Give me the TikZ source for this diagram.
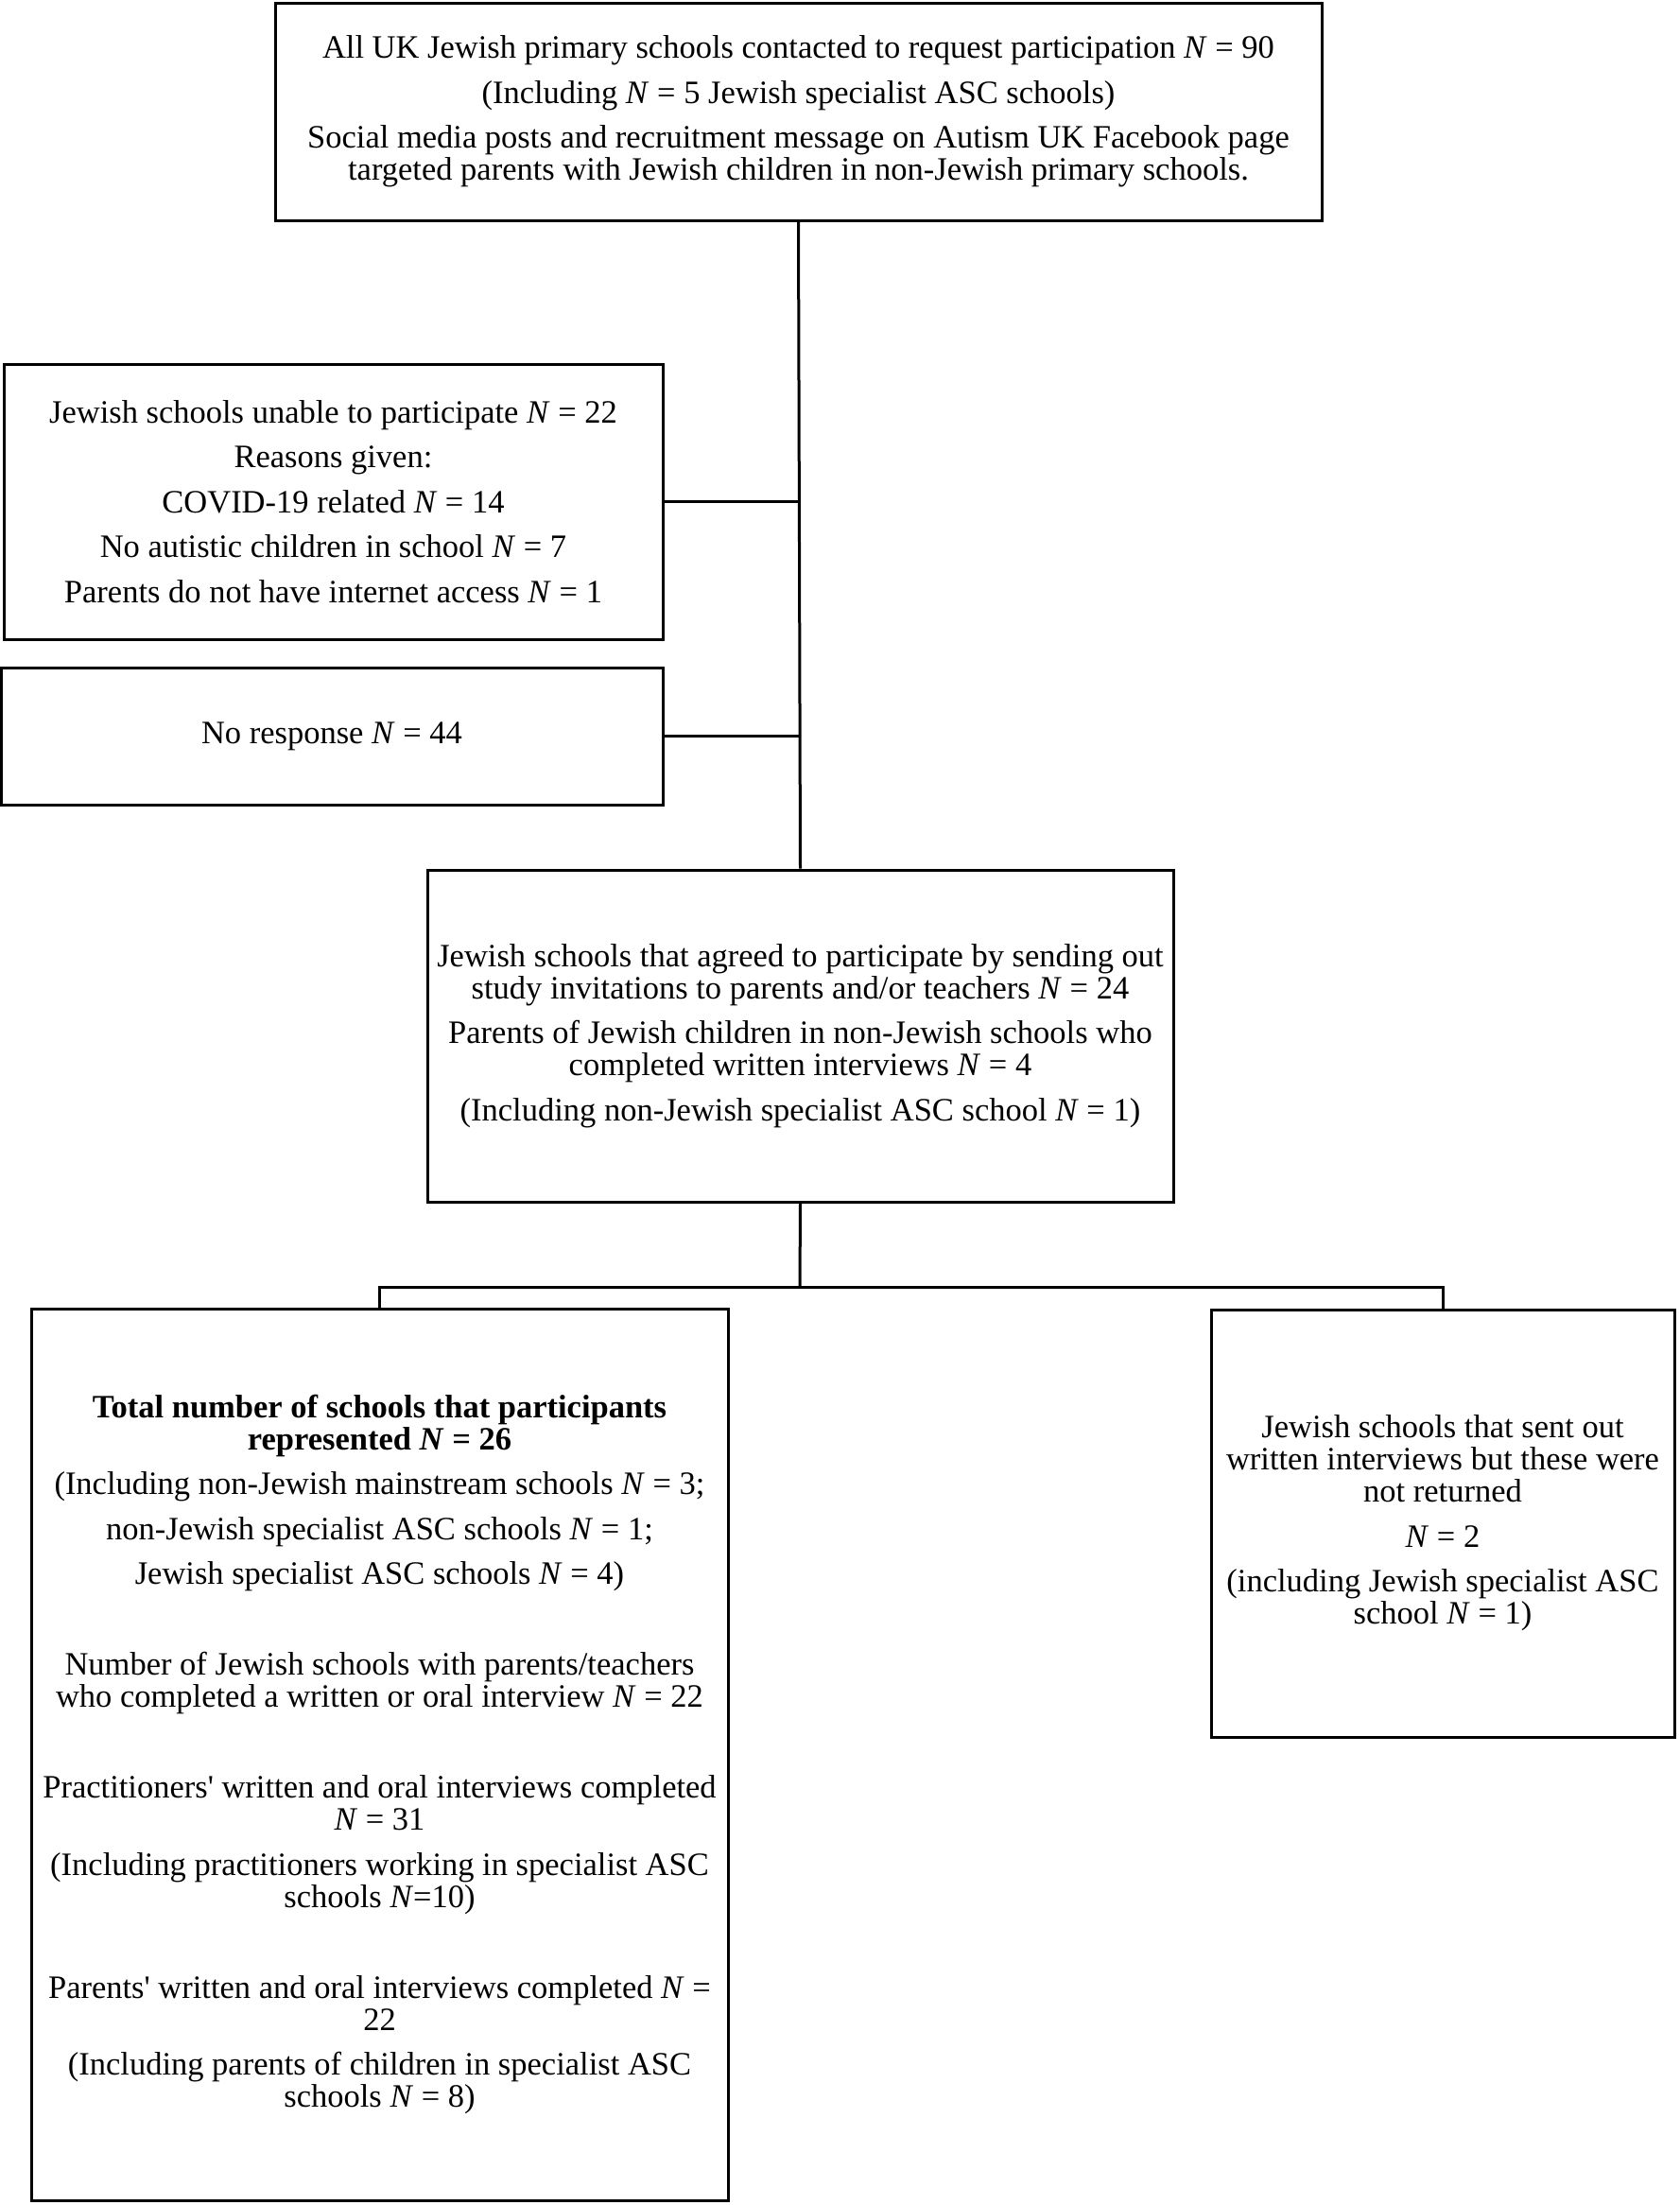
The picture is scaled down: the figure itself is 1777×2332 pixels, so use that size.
\documentclass[tikz,border=0pt]{standalone}
\usepackage{fontspec}
\setmainfont{Liberation Serif}
\newcommand\NN{\textit{N}}
\newcommand\sq{\XeTeXglyph\XeTeXcharglyph"0027\relax}
\newcommand\fs{\fontsize{34.5}{34}\selectfont}
\tikzset{
  box/.style={draw, line width=3pt, inner sep=0pt, align=center, font=\fs},
  conn/.style={line width=3pt}
}
\begin{document}
\begin{tikzpicture}[x=1pt,y=-1pt]
\useasboundingbox (0,0) rectangle (1777,2332);
\node[box, minimum width=1107, minimum height=230] (top) at (844.5,118) {All UK Jewish primary schools contacted to request participation \NN{} = 90\\[13.5pt]
(Including \NN{} = 5 Jewish specialist ASC schools)\\[13.5pt]
Social media posts and recruitment message on Autism UK Facebook page\\
targeted parents with Jewish children in non-Jewish primary schools.};
\node[box, minimum width=697, minimum height=291] (unable) at (352.5,530.5) {Jewish schools unable to participate \NN{} = 22\\[13.5pt]
Reasons given:\\[13.5pt]
COVID-19 related \NN{} = 14\\[13.5pt]
No autistic children in school \NN{} = 7\\[13.5pt]
Parents do not have internet access \NN{} = 1};
\node[box, minimum width=700, minimum height=145] (noresp) at (351,778.5) {No response \NN{} = 44};
\node[box, minimum width=789, minimum height=351] (agreed) at (846.5,1095.5) {Jewish schools that agreed to participate by sending out\\
study invitations to parents and/or teachers \NN{} = 24\\[13.5pt]
Parents of Jewish children in non-Jewish schools who\\
completed written interviews \NN{} = 4\\[13.5pt]
(Including non-Jewish specialist ASC school \NN{} = 1)};
\node[box, minimum width=737, minimum height=943] (total) at (401.5,1855.5) {\textbf{Total number of schools that participants}\\
\textbf{represented \NN{} = 26}\\[13.5pt]
(Including non-Jewish mainstream schools \NN{} = 3;\\[13.5pt]
non-Jewish specialist ASC schools \NN{} = 1;\\[13.5pt]
Jewish specialist ASC schools \NN{} = 4)\\[62pt]
Number of Jewish schools with parents/teachers\\
who completed a written or oral interview \NN{} = 22\\[62pt]
Practitioners\sq{} written and oral interviews completed\\
\NN{} = 31\\[13.5pt]
(Including practitioners working in specialist ASC\\
schools \NN{}=10)\\[62pt]
Parents\sq{} written and oral interviews completed \NN{} =\\
22\\[13.5pt]
(Including parents of children in specialist ASC\\
schools \NN{} = 8)};
\node[box, minimum width=490, minimum height=452] (notret) at (1526,1611) {Jewish schools that sent out\\
written interviews but these were\\
not returned\\[13.5pt]
\NN{} = 2\\[13.5pt]
(including Jewish specialist ASC\\
school \NN{} = 1)};
\coordinate (split) at (846,1361);
\draw[conn] (top.south) -- (agreed.north);
\draw[conn] (unable.east) -- (unable.east -| top.south);
\draw[conn] (noresp.east) -- (noresp.east -| top.south);
\draw[conn] (agreed.south) -- (split);
\draw[conn] (total.north) -- (total.north |- split) -- (notret.north |- split) -- (notret.north);
\end{tikzpicture}
\end{document}
